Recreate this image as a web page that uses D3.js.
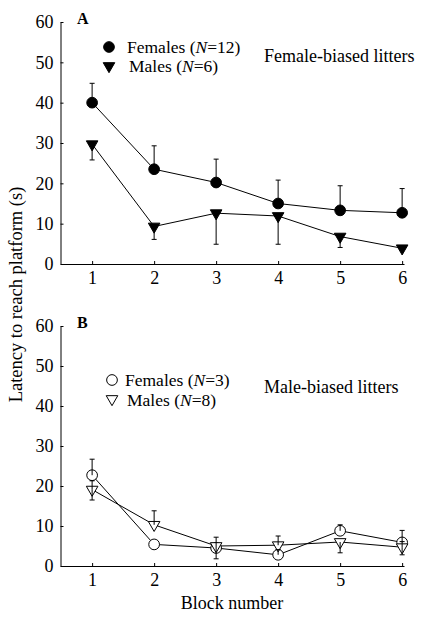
<!DOCTYPE html>
<html>
<head>
<meta charset="utf-8">
<script src="https://cdn.jsdelivr.net/npm/d3@7"></script>
<style>
  body{margin:0;background:#fff;}
  text{font-family:"Liberation Serif","Times New Roman",serif;fill:#000;}
</style>
</head>
<body>
<div class="box"></div>
<script>
// data
const blocks=[1,2,3,4,5,6];
const yTicks=[0,10,20,30,40,50,60];

// panel A : female-biased litters
const femA=[40.0,23.5,20.2,15.0,13.3,12.7];
const femAHi=[44.8,29.3,26.0,20.8,19.4,18.7];
const femALo=[null,null,null,null,null,null];
const malA=[29.7,9.3,12.6,11.9,6.8,3.9];
const malAHi=[null,null,null,null,null,null];
const malALo=[25.8,6.1,4.9,4.9,4.1,null];

// panel B : male-biased litters
const femB=[22.7,5.4,4.5,2.8,8.8,5.9];
const femBHi=[26.7,null,null,4.1,10.3,8.9];
const femBLo=[null,null,null,null,null,null];
const malB=[19.1,10.3,5.0,5.2,6.0,4.7];
const malBHi=[21.3,13.8,7.2,7.5,null,6.1];
const malBLo=[16.5,null,1.8,null,3.3,2.8];

const svg=d3.select('.box').append('svg').attr('width',430).attr('height',617).style('background','white');

const x=d3.scaleLinear().domain([0.49,6.03]).range([60.5,404]);

const circ=d3.symbol().type(d3.symbolCircle).size(90);
const tri=d3.symbol().type(d3.symbolTriangle).size(58);

// "Females (N=12)" : pieces laid side by side, N in italics
const label=(g,x0,y0,pieces) =>{
  let cx=x0;
  pieces.forEach(([str,it]) => {
    const t=g.append('text').attr('x',cx).attr('y',y0).style('font-size','17.5px')
      .style('font-style',it ? 'italic' : 'normal').text(str);
    cx+=t.node().getComputedTextLength();
  });
};

const drawPanel=(p) =>{
  const y=d3.scaleLinear().domain([0,60]).range([p.bottom,p.top]);
  const g=svg.append('g');

  const gX=g.append('g').attr('transform',`translate(0,${p.bottom})`)
    .call(d3.axisBottom(x).tickValues(blocks).tickFormat(d3.format('d')).tickSizeInner(-3).tickSizeOuter(0).tickPadding(7));
  const gY=g.append('g').attr('transform',`translate(60.5,0)`)
    .call(d3.axisLeft(y).tickValues(yTicks).tickSizeInner(-3).tickSizeOuter(0).tickPadding(7));
  [gX,gY].forEach(a => {
    a.selectAll('text').style('font-size','18px').attr('font-family',null);
    a.selectAll('path,line').attr('stroke','#000');
  });

  const line=d3.line().x((d,i) => x(blocks[i])).y(d => y(d));

  p.series.forEach(s => {
    g.append('path').datum(s.vals).attr('d',line).attr('fill','none').attr('stroke','#000').attr('stroke-width',1);
  });

  p.series.forEach(s => {
    g.selectAll(null).data(s.vals).enter().append('path')
      .attr('d',s.sym==='c' ? circ : tri)
      .attr('transform',(d,i) => `translate(${x(blocks[i])},${y(d)})`+(s.sym==='c' ? '' : ' rotate(180)'))
      .attr('fill',p.open ? 'white' : 'black')
      .attr('stroke','black').attr('stroke-width',1);
  });

  // error bars drawn over markers
  p.series.forEach(s => {
    [s.hi,s.lo].forEach(ends => {
      ends.forEach((e,i) => {
        if(e===null) return;
        const cx=x(blocks[i]);
        g.append('line').attr('x1',cx).attr('x2',cx).attr('y1',y(s.vals[i])).attr('y2',y(e)).attr('stroke','#000');
        g.append('line').attr('x1',cx-2.5).attr('x2',cx+2.5).attr('y1',y(e)).attr('y2',y(e)).attr('stroke','#000');
      });
    });
  });

  g.append('text').attr('x',77).attr('y',p.top+1.5).style('font-size','16px').style('font-weight','bold').text(p.letter);

  // legend
  const lg=p.legend;
  g.append('path').attr('d',circ).attr('transform',`translate(${lg.mx},${lg.y1})`)
    .attr('fill',p.open ? 'white' : 'black').attr('stroke','black');
  g.append('path').attr('d',tri).attr('transform',`translate(${lg.mx},${lg.y2}) rotate(180)`)
    .attr('fill',p.open ? 'white' : 'black').attr('stroke','black');
  label(g,lg.tx1,lg.b1,[['Females (',false],['N',true],[`=${lg.nF})`,false]]);
  label(g,lg.tx2,lg.b2,[['Males (',false],['N',true],[`=${lg.nM})`,false]]);
  g.append('text').attr('x',264).attr('y',lg.ty).style('font-size','18px').text(p.title);
};

drawPanel({
  top:22,bottom:264,letter:'A',open:false,title:'Female-biased litters',
  series:[{vals:femA,hi:femAHi,lo:femALo,sym:'c'},{vals:malA,hi:malAHi,lo:malALo,sym:'t'}],
  legend:{mx:109,y1:47,y2:66,b1:52.5,b2:72,tx1:127,tx2:129,nF:12,nM:6,ty:62}
});
drawPanel({
  top:326,bottom:566,letter:'B',open:true,title:'Male-biased litters',
  series:[{vals:femB,hi:femBHi,lo:femBLo,sym:'c'},{vals:malB,hi:malBHi,lo:malBLo,sym:'t'}],
  legend:{mx:112,y1:380,y2:399,b1:386,b2:405.5,tx1:125,tx2:127,nF:3,nM:8,ty:393}
});

svg.append('text').attr('transform','translate(22,294.5) rotate(-90)').attr('text-anchor','middle')
  .style('font-size','18.5px').text('Latency to reach platform (s)');
svg.append('text').attr('x',232).attr('y',609).attr('text-anchor','middle')
  .style('font-size','18px').text('Block number');
</script>
</body>
</html>
